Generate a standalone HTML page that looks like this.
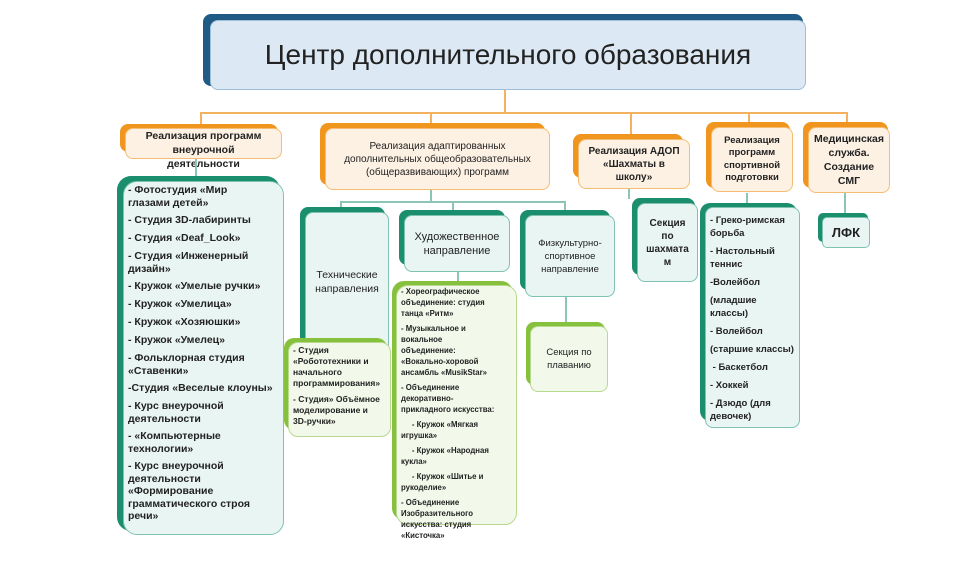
<!DOCTYPE html>
<html><head><meta charset="utf-8"><style>
body{margin:0;width:974px;height:567px;background:#fff;position:relative;overflow:hidden;font-family:"Liberation Sans",sans-serif;color:#222}
.b{position:absolute;border-radius:8px}
.f{position:absolute;border-radius:8px;box-sizing:border-box;display:flex;flex-direction:column;justify-content:center;text-align:center;font-weight:bold}
.o{background:#f0961e}.of{background:#fdf1e4;border:1.5px solid #f5bd73}
.g{background:#1b8e6e}.gf{background:#e9f5f2;border:1.5px solid #7fc2b1}
.l{background:#86c13d}.lf{background:#f2f8ea;border:1.5px solid #b8da8f}
.list{justify-content:flex-start;text-align:left;padding:2px 4px}
.list p{margin:0 0 5px 0;line-height:13px}
.ln{position:absolute;background:#f3b260}
.tl{position:absolute;background:#8cc5b6}
.art p{line-height:11px;margin-bottom:4px}
</style></head><body>
<div class="b" style="left:203px;top:14px;width:600px;height:72px;background:#1f5b85"></div>
<div class="f" style="left:210px;top:20px;width:596px;height:70px;background:#dce9f4;border:1.5px solid #9fbfd9;font-weight:normal;font-size:28px">Центр дополнительного образования</div>
<div class="ln" style="left:504px;top:90px;width:2px;height:24px"></div>
<div class="ln" style="left:200px;top:112px;width:648px;height:2px"></div>
<div class="ln" style="left:200px;top:112px;width:2px;height:14px"></div>
<div class="ln" style="left:430px;top:112px;width:2px;height:14px"></div>
<div class="ln" style="left:630px;top:112px;width:2px;height:24px"></div>
<div class="ln" style="left:748px;top:112px;width:2px;height:12px"></div>
<div class="ln" style="left:846px;top:112px;width:2px;height:12px"></div>
<div class="b o" style="left:120px;top:124px;width:158px;height:28px"></div>
<div class="f of" style="left:125px;top:128px;width:157px;height:31px;font-size:10.5px;line-height:14px;justify-content:flex-start;padding-top:0">Реализация программ<br>внеурочной<br>деятельности</div>
<div class="b o" style="left:320px;top:123px;width:225px;height:62px"></div>
<div class="f of" style="left:325px;top:128px;width:225px;height:62px;font-size:10px;line-height:13px;font-weight:normal">Реализация адаптированных<br>дополнительных общеобразовательных<br>(общеразвивающих) программ</div>
<div class="b o" style="left:573px;top:134px;width:110px;height:44px"></div>
<div class="f of" style="left:578px;top:139px;width:112px;height:50px;font-size:10px;line-height:13px">Реализация АДОП<br>«Шахматы в<br>школу»</div>
<div class="b o" style="left:706px;top:122px;width:84px;height:66px"></div>
<div class="f of" style="left:711px;top:127px;width:82px;height:65px;font-size:9.5px;line-height:12.5px">Реализация<br>программ<br>спортивной<br>подготовки</div>
<div class="b o" style="left:803px;top:122px;width:85px;height:66px"></div>
<div class="f of" style="left:808px;top:127px;width:82px;height:66px;font-size:10.5px;line-height:14px">Медицинская<br>служба.<br>Создание<br>СМГ</div>
<div class="tl" style="left:195px;top:159px;width:1.5px;height:18px"></div>
<div class="tl" style="left:430px;top:190px;width:1.5px;height:12px"></div>
<div class="tl" style="left:340px;top:201px;width:225px;height:1.5px"></div>
<div class="tl" style="left:340px;top:201px;width:1.5px;height:8px"></div>
<div class="tl" style="left:452px;top:201px;width:1.5px;height:10px"></div>
<div class="tl" style="left:564px;top:201px;width:1.5px;height:10px"></div>
<div class="tl" style="left:628px;top:189px;width:1.5px;height:10px"></div>
<div class="tl" style="left:746px;top:193px;width:1.5px;height:11px"></div>
<div class="tl" style="left:844px;top:193px;width:1.5px;height:21px"></div>
<div class="tl" style="left:342px;top:318px;width:1.5px;height:22px"></div>
<div class="tl" style="left:457px;top:272px;width:1.5px;height:12px"></div>
<div class="tl" style="left:565px;top:297px;width:1.5px;height:26px"></div>
<div class="b g" style="left:117px;top:176px;width:163px;height:355px;border-radius:14px"></div>
<div class="f gf list" style="left:123px;top:181px;width:161px;height:354px;font-size:10.5px;border-radius:14px">
<p style="line-height:12.5px">- Фотостудия «Мир<br>глазами детей»</p><p>- Студия 3D-лабиринты</p><p>- Студия «Deaf_Look»</p><p style="line-height:12.5px">- Студия «Инженерный<br>дизайн»</p><p>- Кружок «Умелые ручки»</p><p>- Кружок «Умелица»</p><p>- Кружок «Хозяюшки»</p><p>- Кружок «Умелец»</p><p style="line-height:12.5px">- Фольклорная студия<br>«Ставенки»</p><p>-Студия «Веселые клоуны»</p><p style="line-height:12.5px">- Курс внеурочной<br>деятельности</p><p style="line-height:12.5px">- «Компьютерные<br>технологии»</p><p style="line-height:12.5px">- Курс внеурочной<br>деятельности<br>«Формирование<br>грамматического строя<br>речи»</p></div>
<div class="b g" style="left:300px;top:207px;width:85px;height:138px"></div>
<div class="f gf" style="left:305px;top:212px;width:84px;height:140px;font-size:10.5px;line-height:14px;font-weight:normal">Технические<br>направления</div>
<div class="b g" style="left:399px;top:210px;width:106px;height:55px"></div>
<div class="f gf" style="left:404px;top:215px;width:106px;height:57px;font-size:11px;line-height:14px;font-weight:normal">Художественное<br>направление</div>
<div class="b g" style="left:520px;top:210px;width:90px;height:80px"></div>
<div class="f gf" style="left:525px;top:215px;width:90px;height:82px;font-size:9.5px;line-height:13px;font-weight:normal">Физкультурно-<br>спортивное<br>направление</div>
<div class="b g" style="left:632px;top:198px;width:63px;height:77px"></div>
<div class="f gf" style="left:637px;top:203px;width:61px;height:79px;font-size:10px;line-height:13px">Секция<br>по<br>шахмата<br>м</div>
<div class="b g" style="left:700px;top:203px;width:97px;height:218px;border-radius:10px"></div>
<div class="f gf list" style="left:705px;top:207px;width:95px;height:221px;font-size:9.5px;padding-top:6px">
<p>- Греко-римская<br>борьба</p><p>- Настольный<br>теннис</p><p>-Волейбол</p><p>(младшие<br>классы)</p><p>- Волейбол</p><p>(старшие классы)</p><p>&nbsp;- Баскетбол</p><p>- Хоккей</p><p>- Дзюдо (для<br>девочек)</p></div>
<div class="b g" style="left:818px;top:213px;width:50px;height:29px;border-radius:5px"></div>
<div class="f gf" style="left:822px;top:217px;width:48px;height:31px;font-size:13px;border-radius:5px">ЛФК</div>
<div class="b l" style="left:284px;top:338px;width:103px;height:92px;border-radius:10px"></div>
<div class="f lf list" style="left:288px;top:342px;width:103px;height:95px;font-size:8.5px;border-radius:10px">
<p style="line-height:11px">- Студия<br>«Робототехники и<br>начального<br>программирования»</p><p style="line-height:11px">- Студия» Объёмное<br>моделирование и<br>3D-ручки»</p></div>
<div class="b l" style="left:392px;top:281px;width:121px;height:239px;border-radius:12px"></div>
<div class="f lf list art" style="left:396px;top:285px;width:121px;height:240px;font-size:7.8px;border-radius:12px;padding-top:0">
<p>- Хореографическое<br>объединение: студия<br>танца «Ритм»</p><p>- Музыкальное и<br>вокальное<br>объединение:<br>«Вокально-хоровой<br>ансамбль «MusikStar»</p><p>- Объединение<br>декоративно-<br>прикладного искусства:</p><p>&nbsp;&nbsp;&nbsp;&nbsp;&nbsp;- Кружок «Мягкая<br>игрушка»</p><p>&nbsp;&nbsp;&nbsp;&nbsp;&nbsp;- Кружок «Народная<br>кукла»</p><p>&nbsp;&nbsp;&nbsp;&nbsp;&nbsp;- Кружок «Шитье и<br>рукоделие»</p><p style="margin-bottom:0">- Объединение<br>Изобразительного<br>искусства: студия<br>«Кисточка»</p></div>
<div class="b l" style="left:526px;top:322px;width:79px;height:63px"></div>
<div class="f lf" style="left:530px;top:326px;width:78px;height:66px;font-size:9.5px;line-height:13px;font-weight:normal">Секция по<br>плаванию</div>
</body></html>
